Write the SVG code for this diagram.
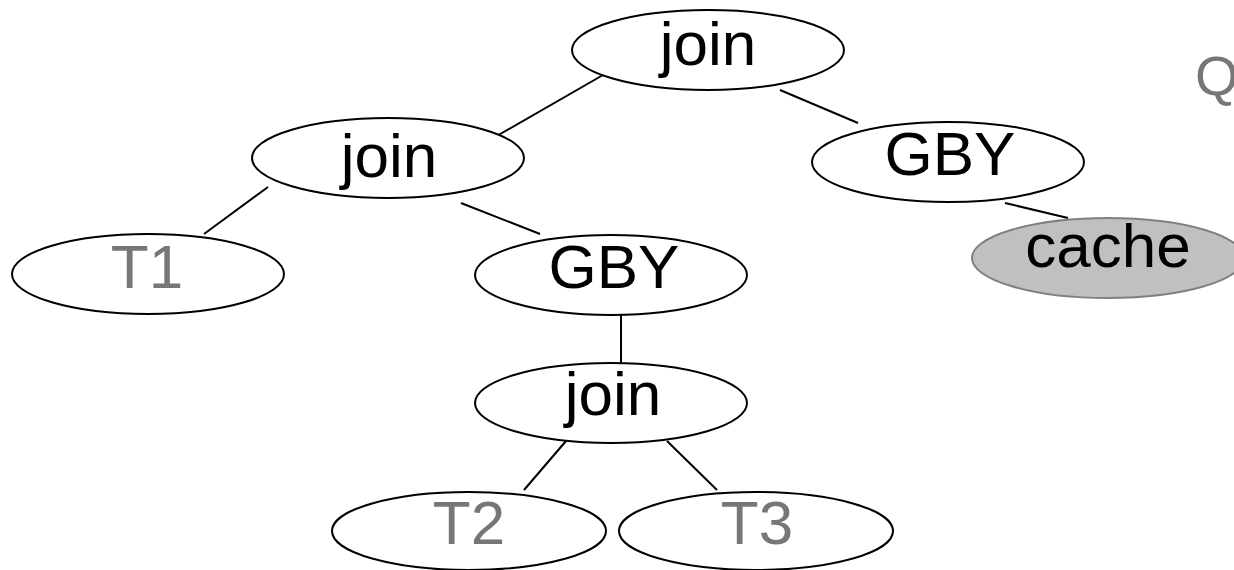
<svg xmlns="http://www.w3.org/2000/svg" width="1234" height="570" viewBox="0 0 1234 570">
<style>
.n{fill:#fff;stroke:#000;stroke-width:2}
.c{fill:#c0c0c0;stroke:#808080;stroke-width:2}
.t{font-family:"Liberation Sans",Arial,sans-serif;font-size:62px;text-anchor:middle;fill:#000}
.g{fill:#777}
.e line{stroke:#000;stroke-width:2}
</style>
<rect width="1234" height="570" fill="#fff"/>
<g class="e" id="connectors">
<line x1="603" y1="75" x2="495" y2="137"/>
<line x1="780" y1="90" x2="858" y2="123"/>
<line x1="268" y1="187" x2="204" y2="234"/>
<line x1="461" y1="203" x2="540" y2="234"/>
<line x1="621" y1="315" x2="621" y2="363"/>
<line x1="1005" y1="203" x2="1068" y2="218"/>
<line x1="566" y1="441" x2="524" y2="490"/>
<line x1="667" y1="441" x2="717" y2="490"/>
</g>
<g id="join-top"><ellipse class="n" cx="708" cy="50" rx="136" ry="40"/><text class="t" x="708" y="65">join</text></g>
<g id="join-left"><ellipse class="n" cx="388" cy="158" rx="136" ry="40"/><text class="t" x="389" y="177">join</text></g>
<g id="gby-right"><ellipse class="n" cx="948" cy="162" rx="136" ry="40"/><text class="t" x="950" y="175">GBY</text></g>
<g id="t1"><ellipse class="n" cx="148" cy="274" rx="136" ry="40"/><text class="t g" x="147" y="288">T1</text></g>
<g id="gby-mid"><ellipse class="n" cx="611" cy="275" rx="136" ry="40"/><text class="t" x="614" y="288">GBY</text></g>
<g id="cache"><ellipse class="c" cx="1108" cy="258" rx="136" ry="40"/><text class="t" x="1108" y="267">cache</text></g>
<g id="join-bottom"><ellipse class="n" cx="611" cy="403" rx="136" ry="40"/><text class="t" x="613" y="415">join</text></g>
<g id="t2"><ellipse class="n" cx="469" cy="531" rx="137" ry="39"/><text class="t g" x="469" y="544">T2</text></g>
<g id="t3"><ellipse class="n" cx="756" cy="531" rx="137" ry="39"/><text class="t g" x="757" y="544">T3</text></g>
<text x="1195" y="95" font-family="Liberation Sans,Arial,sans-serif" font-size="56" fill="#777">Q</text>
</svg>
